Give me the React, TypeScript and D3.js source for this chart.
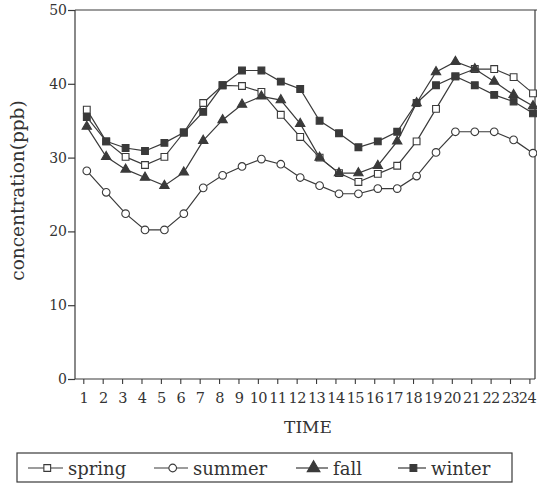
import { useEffect, useRef } from 'react';
import * as d3 from 'd3';

// hours of the day (x categories)
const hours = [1, 2, 3, 4, 5, 6, 7, 8, 9, 10, 11, 12, 13, 14, 15, 16, 17, 18, 19, 20, 21, 22, 23, 24];
const yTicks = [0, 10, 20, 30, 40, 50];

// concentration (ppb) per season
const spring = [36.5, 32.2, 30.1, 29.0, 30.1, 33.4, 37.4, 39.8, 39.7, 38.9, 35.8, 32.8, 30.0, 27.9, 26.7, 27.8, 28.9, 32.2, 36.6, 41.0, 42.0, 42.0, 40.9, 38.7];
const summer = [28.2, 25.3, 22.4, 20.2, 20.2, 22.4, 25.9, 27.6, 28.8, 29.8, 29.1, 27.3, 26.2, 25.1, 25.1, 25.8, 25.8, 27.5, 30.7, 33.5, 33.5, 33.5, 32.4, 30.6];
const fall = [34.2, 30.1, 28.4, 27.3, 26.2, 28.0, 32.3, 35.1, 37.2, 38.3, 37.8, 34.6, 30.0, 27.9, 27.9, 28.9, 32.2, 37.4, 41.6, 43.0, 42.0, 40.3, 38.5, 37.0];
const winter = [35.5, 32.2, 31.3, 30.9, 32.0, 33.4, 36.2, 39.8, 41.8, 41.8, 40.3, 39.3, 35.0, 33.3, 31.4, 32.2, 33.5, 37.4, 39.8, 41.0, 39.8, 38.5, 37.6, 36.0];

const seriesNames = ['spring', 'summer', 'fall', 'winter'];
const seriesValues = [spring, summer, fall, winter];

const FONT = '"DejaVu Serif", "Liberation Serif", serif';
const INK = '#3a3a3a';

const markerFor = (name: string) => {
  if (name === 'summer') return { type: d3.symbolCircle, size: 46, fill: '#fff' };
  if (name === 'fall') return { type: d3.symbolTriangle, size: 38, fill: INK };
  if (name === 'winter') return { type: d3.symbolSquare, size: 46, fill: INK };
  return { type: d3.symbolSquare, size: 46, fill: '#fff' };
};

export default function App() {
  const ref = useRef<SVGSVGElement>(null);

  useEffect(() => {
    const W = 537;
    const H = 483;
    const left = 75, right = 535, top = 10, bottom = 379;

    const svg = d3.select(ref.current);
    svg.selectAll('*').remove();
    svg.attr('width', W).attr('height', H);

    svg.append('rect').attr('width', W).attr('height', H).attr('fill', '#fff');

    const y = d3.scaleLinear().domain([0, 50]).range([bottom, top]);
    const xAxisScale = d3.scaleLinear().domain([1, 24]).range([83.3, 529.4]);
    const x = d3.scaleLinear().domain([1, 24]).range([86.8, 533]);

    // frame
    const frame = svg.append('g').attr('stroke', INK).attr('stroke-width', 1.2).attr('fill', 'none');
    frame.append('line').attr('x1', left).attr('x2', W).attr('y1', top).attr('y2', top);
    frame.append('line').attr('x1', left).attr('x2', left).attr('y1', top).attr('y2', bottom);
    frame.append('line').attr('x1', left).attr('x2', right).attr('y1', bottom).attr('y2', bottom);
    frame.append('line').attr('x1', right).attr('x2', right).attr('y1', top).attr('y2', bottom);

    // y axis
    const yAxis = svg.append('g')
      .attr('transform', `translate(${left},0)`)
      .call(d3.axisLeft(y).tickValues(yTicks).tickSize(7).tickPadding(1).tickFormat(d3.format('d')));
    yAxis.select('.domain').remove();
    yAxis.selectAll('line').attr('stroke', INK).attr('stroke-width', 1.2);
    yAxis.selectAll('text')
      .attr('font-family', FONT).attr('font-size', 14).attr('fill', '#333');

    // x axis
    const xAxis = svg.append('g')
      .attr('transform', `translate(0,${bottom})`)
      .call(d3.axisBottom(xAxisScale).tickValues(hours).tickSize(5).tickFormat(d3.format('d')));
    xAxis.select('.domain').remove();
    xAxis.selectAll('line').attr('stroke', INK).attr('stroke-width', 1.1);
    xAxis.selectAll('text')
      .attr('y', 24).attr('dy', 0)
      .attr('dx', (d: any) => (d === 24 ? -2.5 : 0))
      .attr('font-family', FONT).attr('font-size', 14.5).attr('letter-spacing', -0.6).attr('fill', '#333');

    // axis titles
    svg.append('text')
      .attr('x', (left + right) / 2 + 3).attr('y', 433)
      .attr('text-anchor', 'middle')
      .attr('font-family', FONT).attr('font-size', 17).attr('fill', '#333')
      .text('TIME');

    svg.append('text')
      .attr('transform', `translate(24,${(top + bottom) / 2 - 4}) rotate(-90)`)
      .attr('text-anchor', 'middle')
      .attr('font-family', FONT).attr('font-size', 18.5).attr('fill', '#333')
      .text('concentration(ppb)');

    // series
    const line = d3.line<number>()
      .x((_, i) => x(hours[i]))
      .y(d => y(d));

    seriesValues.forEach((vals) => {
      svg.append('path')
        .datum(vals)
        .attr('fill', 'none')
        .attr('stroke', INK)
        .attr('stroke-width', 1.2)
        .attr('d', line);
    });

    seriesValues.forEach((vals, s) => {
      const m = markerFor(seriesNames[s]);
      svg.append('g')
        .selectAll('path')
        .data(vals)
        .join('path')
        .attr('transform', (d, i) => `translate(${x(hours[i])},${y(d)})`)
        .attr('d', d3.symbol().type(m.type).size(m.size))
        .attr('fill', m.fill)
        .attr('stroke', INK)
        .attr('stroke-width', 1.1);
    });

    // legend
    const legendX = [28, 154, 296, 398];
    const legendLineW = [35, 34, 32, 28];
    const legendY = 468;
    svg.append('rect')
      .attr('x', 17).attr('y', 453).attr('width', 495).attr('height', 29)
      .attr('fill', 'none').attr('stroke', INK).attr('stroke-width', 1.2);

    seriesNames.forEach((name, s) => {
      const g = svg.append('g').attr('transform', `translate(${legendX[s]},${legendY})`);
      const m = markerFor(name);
      const w = legendLineW[s];
      g.append('line').attr('x1', 0).attr('x2', w).attr('y1', 0).attr('y2', 0)
        .attr('stroke', INK).attr('stroke-width', 1.2);
      g.append('path')
        .attr('transform', `translate(${w * 0.55},0)`)
        .attr('d', d3.symbol().type(m.type).size(name === 'fall' ? 70 : m.size))
        .attr('fill', m.fill).attr('stroke', INK).attr('stroke-width', 1.1);
      g.append('text')
        .attr('x', w + 5).attr('y', 7)
        .attr('font-family', FONT).attr('font-size', 18).attr('fill', '#333')
        .text(name);
    });
  }, []);

  return <svg ref={ref} style={{ position: 'absolute', left: 0, top: 0 }} />;
}
